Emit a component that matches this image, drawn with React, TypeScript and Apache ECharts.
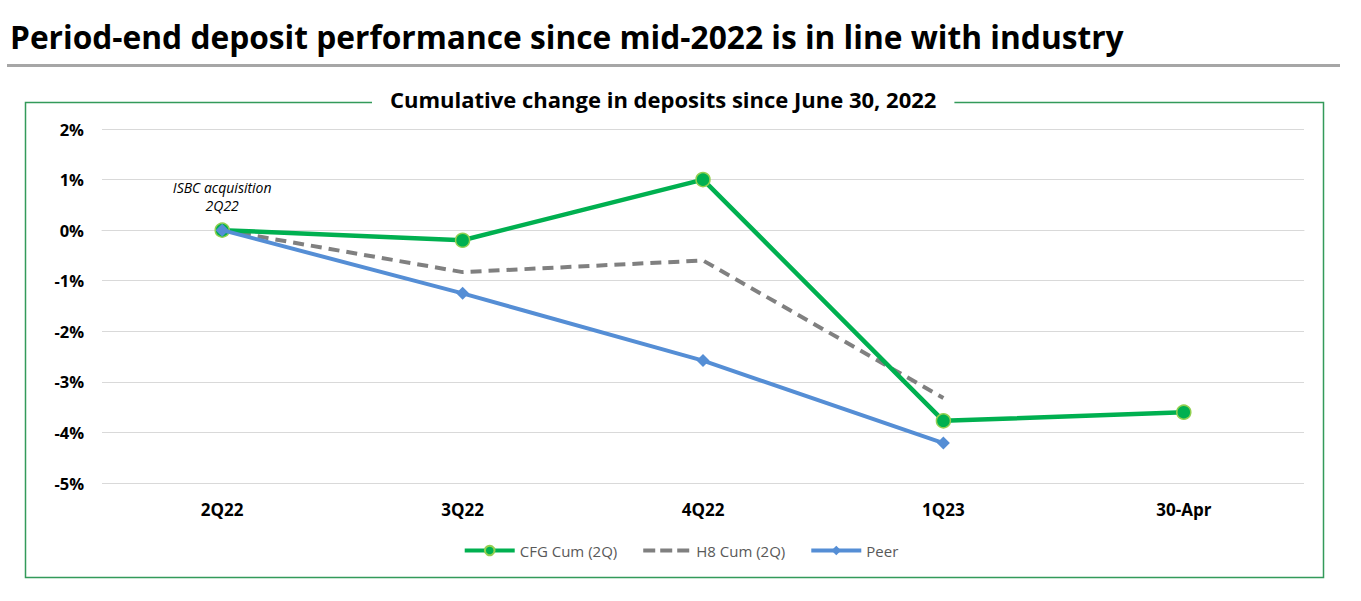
import React, { useEffect, useRef } from "react";
import * as echarts from "echarts";

const categories = ["2Q22", "3Q22", "4Q22", "1Q23", "30-Apr"];
const cfgCum = [0, -0.2, 1.0, -3.77, -3.6];
const h8Cum = [0, -0.83, -0.6, -3.32, null];
const peer = [0, -1.25, -2.58, -4.21, null];
const yTicks = { min: -5, max: 2, interval: 1 };
const mainTitle = "Period-end deposit performance since mid-2022 is in line with industry";
const chartTitle = "Cumulative change in deposits since June 30, 2022";
const annotation = "ISBC acquisition\n2Q22";

const FONT = "'Open Sans', Lato, sans-serif";
const DASH_ICON =
  "path://M0,0h0.01v0.01H0z M50,12h-0.01v-0.01H50z M2,4h12v4H2z M19,4h12v4H19z M36,4h12v4H36z";

export default function App() {
  const ref = useRef<HTMLDivElement>(null);
  useEffect(() => {
    if (!ref.current) return;
    const chart = echarts.init(ref.current, null, { renderer: "svg" });
    chart.setOption({
      animation: false,
      textStyle: { fontFamily: FONT },
      graphic: [
        {
          type: "text",
          left: 10,
          top: 20,
          style: { text: mainTitle, font: `bold 31.7px ${FONT}`, fill: "#000" },
        },
        {
          type: "rect",
          shape: { x: 7, y: 64, width: 1333, height: 3 },
          style: { fill: "#a6a6a6" },
        },
        {
          type: "rect",
          shape: { x: 25.5, y: 102.5, width: 1298, height: 475 },
          style: { fill: "none", stroke: "#339a5a", lineWidth: 1.5 },
          z: -1,
        },
      ],
      title: {
        text: chartTitle,
        left: 372,
        top: 86,
        backgroundColor: "#fff",
        padding: [2, 18],
        textStyle: { fontFamily: FONT, fontWeight: "bold", fontSize: 22, color: "#000" },
      },
      grid: { left: 102, right: 57, top: 129, bottom: 118 },
      legend: {
        top: 538,
        left: "center",
        itemWidth: 50,
        itemHeight: 12,
        itemGap: 24,
        lineStyle: { width: 4 },
        textStyle: { fontFamily: FONT, fontSize: 15, color: "#595959" },
        data: [
          { name: "CFG Cum (2Q)" },
          { name: "H8 Cum (2Q)", icon: DASH_ICON, itemStyle: { color: "#808080" } },
          { name: "Peer" },
        ],
      },
      xAxis: {
        type: "category",
        data: categories,
        boundaryGap: true,
        axisLine: { show: true, lineStyle: { color: "#d9d9d9" } },
        axisTick: { show: false },
        axisLabel: { fontFamily: FONT, fontWeight: "bold", fontSize: 17, color: "#000", margin: 18 },
      },
      yAxis: {
        type: "value",
        min: yTicks.min,
        max: yTicks.max,
        interval: yTicks.interval,
        axisLine: { show: false },
        axisTick: { show: false },
        splitLine: { lineStyle: { color: "#d9d9d9", width: 1 } },
        axisLabel: {
          fontFamily: FONT,
          fontWeight: "bold",
          fontSize: 16.5,
          color: "#000",
          margin: 18,
          formatter: (v: number) => `${v}%`,
        },
      },
      series: [
        {
          name: "CFG Cum (2Q)",
          type: "line",
          data: cfgCum.map((v, i) =>
            i === 0
              ? {
                  value: v,
                  label: {
                    show: true,
                    position: "top",
                    distance: 8,
                    formatter: annotation,
                    fontFamily: FONT,
                    fontStyle: "italic",
                    fontSize: 14,
                    lineHeight: 18,
                    color: "#000",
                  },
                }
              : v
          ),
          symbol: "circle",
          symbolSize: 14,
          lineStyle: { color: "#00b050", width: 4.5 },
          itemStyle: { color: "#00b050", borderColor: "#92d050", borderWidth: 1.5 },
          z: 3,
        },
        {
          name: "H8 Cum (2Q)",
          type: "line",
          data: h8Cum,
          symbol: "none",
          lineStyle: { color: "#808080", width: 4, type: [11, 7] },
          itemStyle: { color: "#808080" },
          z: 2,
        },
        {
          name: "Peer",
          type: "line",
          data: peer,
          symbol: "diamond",
          symbolSize: 13,
          lineStyle: { color: "#558ed5", width: 4 },
          itemStyle: { color: "#558ed5" },
          z: 4,
        },
      ],
    });
    return () => chart.dispose();
  }, []);
  return (
    <div
      ref={ref}
      style={{ position: "fixed", left: 0, top: 0, width: 1361, height: 601, background: "#fff" }}
    />
  );
}
